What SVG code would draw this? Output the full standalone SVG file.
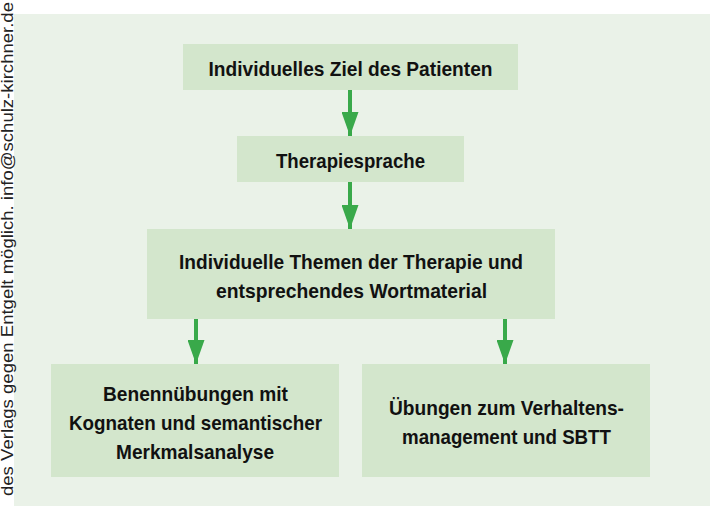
<svg xmlns="http://www.w3.org/2000/svg" width="710" height="506" viewBox="0 0 710 506">
  <style>
    .box { fill: #d3e6cc; }
    .lbl { font-family: "Liberation Sans Narrow", "Liberation Sans", Arial, sans-serif; font-weight: bold; font-size: 21px; fill: #111111; text-anchor: middle; }
    .wm { font-family: "Liberation Sans", Arial, sans-serif; font-size: 16px; fill: #222222; text-anchor: end; }
    .conn { stroke: #39a94a; stroke-width: 4; fill: none; marker-end: url(#ah); }
  </style>
  <defs>
    <marker id="ah" markerUnits="userSpaceOnUse" markerWidth="24" markerHeight="17" refX="24" refY="8.5" orient="auto" viewBox="0 0 24 17">
      <path d="M0,0 L24,8.5 L0,17 Z" fill="#39a94a"/>
    </marker>
  </defs>
  <rect x="0" y="0" width="710" height="506" fill="#ffffff"/>
  <rect x="14" y="14" width="696" height="492" fill="#eaf2e8"/>
  <text class="wm" transform="translate(12.5,2) rotate(-90)" x="0" y="0" textLength="494" lengthAdjust="spacingAndGlyphs">des Verlags gegen Entgelt möglich. info@schulz-kirchner.de</text>

  <g id="connectors">
    <line class="conn" x1="350" y1="90" x2="350" y2="136"/>
    <line class="conn" x1="350" y1="182" x2="350" y2="229"/>
    <line class="conn" x1="196" y1="319" x2="196" y2="364"/>
    <line class="conn" x1="505" y1="319" x2="505" y2="364"/>
  </g>

  <g id="n1">
    <rect class="box" x="183" y="44" width="335" height="46"/>
    <text class="lbl" x="350.5" y="76" textLength="284" lengthAdjust="spacingAndGlyphs">Individuelles Ziel des Patienten</text>
  </g>
  <g id="n2">
    <rect class="box" x="237" y="136" width="227" height="46"/>
    <text class="lbl" x="350.5" y="168" textLength="149" lengthAdjust="spacingAndGlyphs">Therapiesprache</text>
  </g>
  <g id="n3">
    <rect class="box" x="147" y="229" width="408" height="90"/>
    <text class="lbl" x="351" y="269" textLength="344" lengthAdjust="spacingAndGlyphs">Individuelle Themen der Therapie und</text>
    <text class="lbl" x="351.5" y="298" textLength="271" lengthAdjust="spacingAndGlyphs">entsprechendes Wortmaterial</text>
  </g>
  <g id="n4">
    <rect class="box" x="51" y="364" width="288" height="113"/>
    <text class="lbl" x="195.5" y="401" textLength="185" lengthAdjust="spacingAndGlyphs">Benennübungen mit</text>
    <text class="lbl" x="195.5" y="430" textLength="253" lengthAdjust="spacingAndGlyphs">Kognaten und semantischer</text>
    <text class="lbl" x="195" y="459" textLength="158" lengthAdjust="spacingAndGlyphs">Merkmalsanalyse</text>
  </g>
  <g id="n5">
    <rect class="box" x="362" y="364" width="288" height="113"/>
    <text class="lbl" x="506.5" y="415" textLength="235" lengthAdjust="spacingAndGlyphs">Übungen zum Verhaltens-</text>
    <text class="lbl" x="506.5" y="444" textLength="209" lengthAdjust="spacingAndGlyphs">management und SBTT</text>
  </g>
</svg>
